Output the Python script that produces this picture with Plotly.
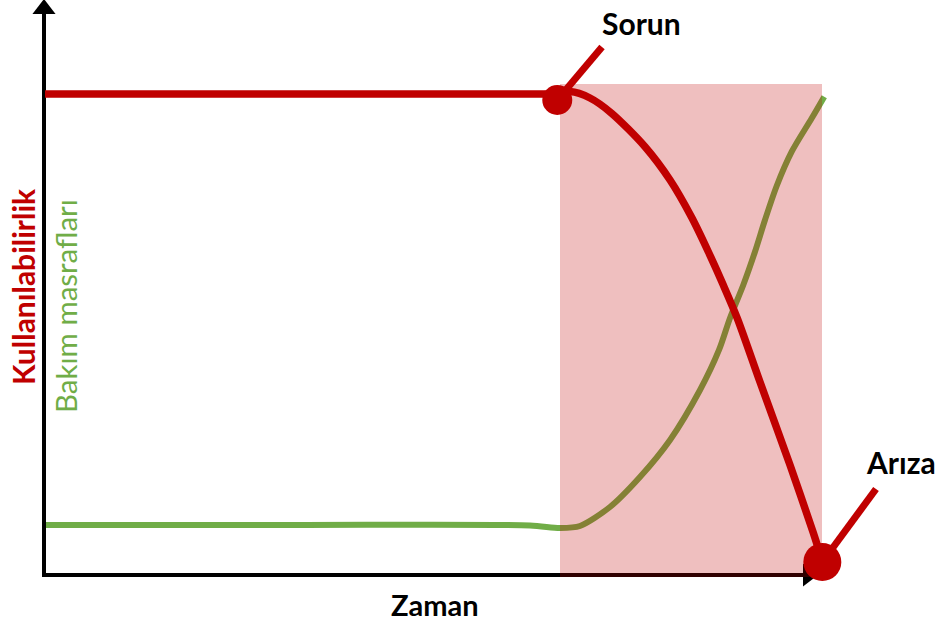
import plotly.graph_objects as go

# ---------------- data (time in arbitrary units 0..10, values in % ) ----------------
time_avail = [0.0, 3.29, 6.387, 6.606, 6.774, 7.032, 7.312, 7.742, 8.065, 8.345, 8.559,
              8.752, 8.933, 9.226, 9.613, 9.910, 10.013]
availability = [100.0, 100.0, 100.0, 100.1, 100.5, 99.17, 95.99, 89.04, 82.12, 74.32, 67.21,
                60.29, 53.37, 40.12, 22.87, 8.94, 3.74]

time_cost = [0.0, 3.29, 6.258, 6.645, 6.903, 7.290, 7.677, 8.065, 8.452, 8.697, 8.839,
             9.010, 9.161, 9.290, 9.441, 9.635, 9.893, 10.055]
maintenance_cost = [10.4, 10.4, 10.29, 9.77, 10.19, 14.14, 20.37, 28.07, 38.46, 46.78, 53.43,
                    60.29, 67.21, 73.80, 80.87, 88.0, 94.95, 99.44]

event_labels = ["Sorun", "Arıza"]
event_time = [6.61, 10.03]
event_value = [98.75, 2.7]

x_title = "Zaman"
y_title_1 = "Kullanılabilirlik"
y_title_2 = "Bakım masrafları"

RED = "#C00000"
GREEN = "#70AD47"

W, H = 941, 622
# pixel <-> data mapping (used for decorations only)
X0_PX, PX_PER_T = 45, 77.5
Y0_PX, PX_PER_V = 575, 4.81


def tx(px):
    return (px - X0_PX) / PX_PER_T


def vy(py):
    return (Y0_PX - py) / PX_PER_V


fig = go.Figure()

# green maintenance cost curve (under the shaded zone)
fig.add_trace(go.Scatter(x=time_cost, y=maintenance_cost, mode="lines",
                         line=dict(color=GREEN, width=6, shape="spline", smoothing=0.8),
                         hoverinfo="skip", showlegend=False))

# axes lines
fig.add_trace(go.Scatter(x=[tx(44), tx(44)], y=[vy(577), vy(12)], mode="lines",
                         line=dict(color="black", width=4), hoverinfo="skip", showlegend=False))
fig.add_trace(go.Scatter(x=[tx(42), tx(805)], y=[vy(575), vy(575)], mode="lines",
                         line=dict(color="black", width=4), hoverinfo="skip", showlegend=False))
# arrowheads
fig.add_trace(go.Scatter(x=[tx(44)], y=[vy(9)], mode="markers",
                         marker=dict(symbol="triangle-up", size=20, color="black", opacity=1),
                         hoverinfo="skip", showlegend=False))
fig.add_trace(go.Scatter(x=[tx(808)], y=[vy(575)], mode="markers",
                         marker=dict(symbol="triangle-right", size=20, color="black", opacity=1),
                         hoverinfo="skip", showlegend=False))

# shaded zone
x_l, x_r, y_b, y_t = tx(560), tx(822), vy(577), vy(84)
fig.add_trace(go.Scatter(x=[x_l, x_r, x_r, x_l, x_l], y=[y_b, y_b, y_t, y_t, y_b],
                         mode="lines", fill="toself", fillcolor="rgba(192,0,0,0.25)",
                         line=dict(width=0), hoverinfo="skip", showlegend=False))

# red availability curve
fig.add_trace(go.Scatter(x=time_avail, y=availability, mode="lines",
                         line=dict(color=RED, width=7.5, shape="spline", smoothing=0.8),
                         hoverinfo="skip", showlegend=False))

# callout lines
callout_ends = [(602, 47), (876, 489)]
for (t, v), (ex, ey) in zip(zip(event_time, event_value), callout_ends):
    fig.add_trace(go.Scatter(x=[t, tx(ex)], y=[v, vy(ey)], mode="lines",
                             line=dict(color=RED, width=7), hoverinfo="skip", showlegend=False))

# event markers
fig.add_trace(go.Scatter(x=event_time, y=event_value, mode="markers",
                         marker=dict(color=RED, size=[30, 38], opacity=1, line=dict(width=0)),
                         hoverinfo="skip", showlegend=False))

FONT = "Lato"
label_pos = [(641, 23), (901, 462)]
for lab, (px, py) in zip(event_labels, label_pos):
    fig.add_annotation(x=tx(px), y=vy(py), text=f"<b>{lab}</b>", showarrow=False,
                       font=dict(family=FONT, size=30, color="black"),
                       xanchor="center", yanchor="middle")

fig.add_annotation(x=tx(435), y=vy(604), text=f"<b>{x_title}</b>", showarrow=False,
                   font=dict(family=FONT, size=29, color="black"), xanchor="center", yanchor="middle",
                   borderpad=0)
fig.add_annotation(x=tx(23), y=vy(287), text=f"<b>{y_title_1}</b>", showarrow=False, textangle=-90,
                   font=dict(family=FONT, size=30, color=RED), xanchor="center", yanchor="middle")
fig.add_annotation(x=tx(65), y=vy(306), text=y_title_2, showarrow=False, textangle=-90,
                   font=dict(family=FONT, size=29.5, color=GREEN), xanchor="center", yanchor="middle")

fig.update_layout(
    width=W, height=H,
    margin=dict(l=0, r=0, t=0, b=0),
    paper_bgcolor="white", plot_bgcolor="white",
    xaxis=dict(visible=False, range=[tx(0), tx(W)], fixedrange=True),
    yaxis=dict(visible=False, range=[vy(H), vy(0)], fixedrange=True),
    showlegend=False,
)

fig.write_html("out.html", config={"displayModeBar": False},
               post_script="document.body.style.margin='0px';document.body.style.overflow='hidden';")
